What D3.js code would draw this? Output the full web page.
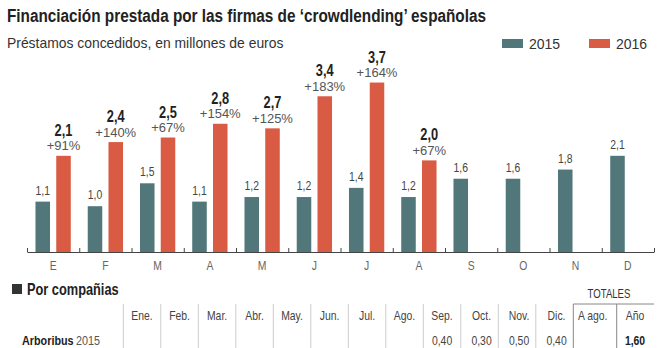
<!DOCTYPE html>
<html>
<head>
<meta charset="utf-8">
<script src="https://cdn.jsdelivr.net/npm/d3@7"></script>
<style>
  body { margin: 0; background: #fff; }
  text { font-family: "Liberation Sans", Arial, sans-serif; }
</style>
</head>
<body>
<script>
// months on the axis
var months = ["E", "F", "M", "A", "M", "J", "J", "A", "S", "O", "N", "D"];
// préstamos, millones de euros
var values2015 = [1.1, 1.0, 1.5, 1.1, 1.2, 1.2, 1.4, 1.2, 1.6, 1.6, 1.8, 2.1];
var values2016 = [2.1, 2.4, 2.5, 2.8, 2.7, 3.4, 3.7, 2.0];
var growth2016 = ["+91%", "+140%", "+67%", "+154%", "+125%", "+183%", "+164%", "+67%"];
// table
var tableHeads = ["Ene.", "Feb.", "Mar.", "Abr.", "May.", "Jun.", "Jul.", "Ago.", "Sep.", "Oct.", "Nov.", "Dic."];
var arboribus2015 = ["", "", "", "", "", "", "", "", "0,40", "0,30", "0,50", "0,40"];
var arboribusTotals = ["", "1,60"];

var width = 664;
var height = 348;
var c2015 = "#52777a";
var c2016 = "#d95b43";
var SX = 0.8; // horizontal squeeze to fake a condensed face

var fmt = function(v) { return d3.format(".1f")(v).replace(".", ","); };
var narrow = function(x, y) { return "translate(" + [x, y] + ") scale(" + SX + ",1)"; };

var svg = d3.select("body").append("svg")
    .attr("width", width)
    .attr("height", height);

svg.append("rect").attr("width", width).attr("height", height).attr("fill", "#fff");

// title + subtitle
svg.append("text")
    .attr("x", 7).attr("y", 22)
    .attr("font-size", 17.5).attr("font-weight", "bold").attr("fill", "#222")
    .attr("textLength", 479).attr("lengthAdjust", "spacingAndGlyphs")
    .text("Financiación prestada por las firmas de ‘crowdlending’ españolas");

svg.append("text")
    .attr("x", 7).attr("y", 48)
    .attr("font-size", 13.9).attr("fill", "#333")
    .text("Préstamos concedidos, en millones de euros");

// legend
var legend = [["2015", c2015, 502], ["2016", c2016, 589]];
var lg = svg.selectAll(".legend").data(legend).enter().append("g").attr("class", "legend");
lg.append("rect")
    .attr("x", function(d) { return d[2]; })
    .attr("y", 39).attr("width", 21).attr("height", 9)
    .attr("fill", function(d) { return d[1]; });
lg.append("text")
    .attr("x", function(d) { return d[2] + 27; })
    .attr("y", 49)
    .attr("font-size", 14).attr("fill", "#333")
    .text(function(d) { return d[0]; });

// scales
var base = 252;
var x0 = d3.scaleBand().domain(d3.range(12)).range([27, 654]);
var bw = x0.bandwidth();
var x1 = d3.scaleBand().domain([2015, 2016])
    .range([(bw - 35.3) / 2, (bw + 35.3) / 2])
    .paddingInner(0.3);
var y = d3.scaleLinear().domain([0, 4]).range([base, base - 4 * 45.8]);

// bars 2015
svg.append("g").selectAll("rect").data(values2015).enter().append("rect")
    .attr("x", function(d, i) { return x0(i) + x1(2015); })
    .attr("y", function(d) { return y(d); })
    .attr("width", x1.bandwidth())
    .attr("height", function(d) { return base - y(d); })
    .attr("fill", c2015);

svg.append("g").selectAll("text").data(values2015).enter().append("text")
    .attr("transform", function(d, i) { return narrow(x0(i) + x1(2015) + x1.bandwidth() / 2, y(d) - 7); })
    .attr("text-anchor", "middle")
    .attr("font-size", 13).attr("fill", "#444")
    .text(fmt);

// bars 2016
svg.append("g").selectAll("rect").data(values2016).enter().append("rect")
    .attr("x", function(d, i) { return x0(i) + x1(2016); })
    .attr("y", function(d) { return y(d); })
    .attr("width", x1.bandwidth())
    .attr("height", function(d) { return base - y(d); })
    .attr("fill", c2016);

var lab16 = svg.append("g").selectAll("g").data(values2016).enter().append("g")
    .attr("transform", function(d, i) {
        return "translate(" + [x0(i) + x1(2016) + x1.bandwidth() / 2, y(d)] + ")";
    });
lab16.append("text")
    .attr("y", -5.5)
    .attr("text-anchor", "middle")
    .attr("font-size", 13).attr("fill", "#555")
    .text(function(d, i) { return growth2016[i]; });
lab16.append("text")
    .attr("transform", narrow(0, -20))
    .attr("text-anchor", "middle")
    .attr("font-size", 16).attr("font-weight", "bold").attr("fill", "#222")
    .text(fmt);

// axis: boundary ticks pointing up
var xb = d3.scaleLinear().domain([0, 12]).range([27, 654]);
var axB = svg.append("g")
    .attr("transform", "translate(0," + base + ")")
    .call(d3.axisBottom(xb).tickValues(d3.range(13)).tickSizeInner(-4).tickSizeOuter(0).tickFormat(""));
axB.selectAll("path, line").attr("stroke", "#444");

var axL = svg.append("g")
    .attr("transform", "translate(0," + base + ")")
    .call(d3.axisBottom(x0).tickSize(0).tickFormat(function(i) { return months[i]; }));
axL.select(".domain").remove();
axL.selectAll("text")
    .attr("y", null).attr("dy", null)
    .attr("transform", narrow(0, 17.5))
    .attr("font-size", 13).attr("fill", "#666")
    .style("font-family", "'Liberation Sans', Arial, sans-serif");

// por compañias
svg.append("rect").attr("x", 12).attr("y", 284).attr("width", 10).attr("height", 10).attr("fill", "#333");
svg.append("text")
    .attr("transform", narrow(27, 295))
    .attr("font-size", 16).attr("font-weight", "bold").attr("fill", "#222")
    .text("Por compañias");

// table
var colX = d3.scaleLinear().domain([0, 12]).range([123.3, 573.3]);
var colW = colX(1) - colX(0);
var tbl = svg.append("g");

tbl.selectAll(".vline").data(d3.range(12)).enter().append("line")
    .attr("x1", function(d) { return colX(d); })
    .attr("x2", function(d) { return colX(d); })
    .attr("y1", 304).attr("y2", height)
    .attr("stroke", "#ccc");

// totals block
tbl.append("line").attr("x1", colX(12)).attr("x2", colX(12)).attr("y1", 304).attr("y2", height).attr("stroke", "#888");
tbl.append("line").attr("x1", 616.7).attr("x2", 616.7).attr("y1", 304).attr("y2", height).attr("stroke", "#888");
tbl.append("line").attr("x1", colX(12)).attr("x2", 654).attr("y1", 304).attr("y2", 304).attr("stroke", "#888");
tbl.append("text")
    .attr("transform", narrow(609, 298))
    .attr("text-anchor", "middle")
    .attr("font-size", 12).attr("fill", "#333")
    .text("TOTALES");

tbl.selectAll(".head").data(tableHeads).enter().append("text")
    .attr("transform", function(d, i) { return narrow(colX(i) + colW / 2 + (i > 8 ? 2 : 0), 320); })
    .attr("text-anchor", "middle")
    .attr("font-size", 13).attr("fill", "#444")
    .text(function(d) { return d; });

tbl.append("text")
    .attr("transform", narrow(578, 320))
    .attr("font-size", 13).attr("fill", "#444").text("A ago.");
tbl.append("text")
    .attr("transform", narrow(635, 320)).attr("text-anchor", "middle")
    .attr("font-size", 13).attr("fill", "#444").text("Año");

tbl.append("text")
    .attr("transform", narrow(22, 345))
    .attr("font-size", 13.5).attr("font-weight", "bold").attr("fill", "#222").text("Arboribus");
tbl.append("text")
    .attr("transform", narrow(76, 345))
    .attr("font-size", 13.5).attr("fill", "#555").text("2015");

tbl.selectAll(".val").data(arboribus2015).enter().append("text")
    .attr("transform", function(d, i) { return narrow(colX(i) + colW / 2 + (i > 8 ? 2 : 0), 345); })
    .attr("text-anchor", "middle")
    .attr("font-size", 13).attr("fill", "#444")
    .text(function(d) { return d; });

tbl.selectAll(".tot").data(arboribusTotals).enter().append("text")
    .attr("transform", function(d, i) { return narrow(i === 0 ? 595 : 635, 345); })
    .attr("text-anchor", "middle")
    .attr("font-size", 13)
    .attr("font-weight", function(d, i) { return i === 1 ? "bold" : "normal"; })
    .attr("fill", "#222")
    .text(function(d) { return d; });
</script>
</body>
</html>
